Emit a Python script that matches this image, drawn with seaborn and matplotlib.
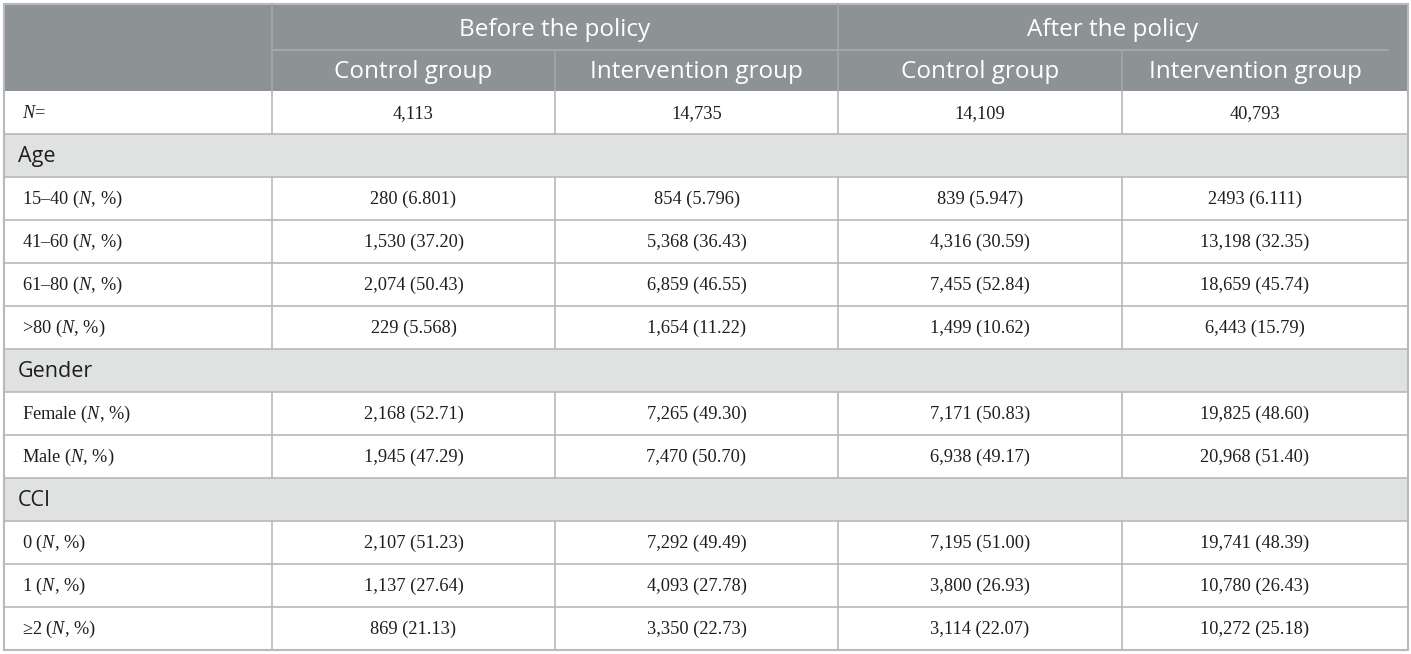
import matplotlib
matplotlib.use("Agg")
import matplotlib.pyplot as plt
import seaborn as sns
from matplotlib.patches import Rectangle

sns.set_theme(style="white")
plt.rcParams['mathtext.fontset'] = 'custom'
plt.rcParams['mathtext.it'] = 'Liberation Serif:italic'
plt.rcParams['mathtext.rm'] = 'Liberation Serif'

# table content
periods = ["Before the policy", "After the policy"]
groups = ["Control group", "Intervention group"]
row_labels = ["$N$=", "Age", "15–40 ($N$, %)", "41–60 ($N$, %)", "61–80 ($N$, %)",
              ">80 ($N$, %)", "Gender", "Female ($N$, %)", "Male ($N$, %)", "CCI",
              "0 ($N$, %)", "1 ($N$, %)", "≥2 ($N$, %)"]
before_control = ["4,113", None, "280 (6.801)", "1,530 (37.20)", "2,074 (50.43)", "229 (5.568)",
                  None, "2,168 (52.71)", "1,945 (47.29)", None,
                  "2,107 (51.23)", "1,137 (27.64)", "869 (21.13)"]
before_intervention = ["14,735", None, "854 (5.796)", "5,368 (36.43)", "6,859 (46.55)", "1,654 (11.22)",
                       None, "7,265 (49.30)", "7,470 (50.70)", None,
                       "7,292 (49.49)", "4,093 (27.78)", "3,350 (22.73)"]
after_control = ["14,109", None, "839 (5.947)", "4,316 (30.59)", "7,455 (52.84)", "1,499 (10.62)",
                 None, "7,171 (50.83)", "6,938 (49.17)", None,
                 "7,195 (51.00)", "3,800 (26.93)", "3,114 (22.07)"]
after_intervention = ["40,793", None, "2493 (6.111)", "13,198 (32.35)", "18,659 (45.74)", "6,443 (15.79)",
                      None, "19,825 (48.60)", "20,968 (51.40)", None,
                      "19,741 (48.39)", "10,780 (26.43)", "10,272 (25.18)"]

columns = [before_control, before_intervention, after_control, after_intervention]

# layout (pixels)
W, H = 1411, 654
col_x = [4, 272, 555, 838, 1122, 1408]
text_right = 1388   # last column content sits inside a right padding
top, mid, head_bot, bottom = 4, 50, 91, 650
row_h = (bottom - head_bot) / len(row_labels)

def col_center(j):
    right = col_x[j + 2] if j < 3 else text_right
    return (col_x[j + 1] + right) / 2

header_col = "#8d9295"
section_col = "#e0e2e1"
line_col = "#b7b9ba"
sans = ["Open Sans", "DejaVu Sans"]
serif = ["Liberation Serif", "DejaVu Serif"]

fig = plt.figure(figsize=(W / 100, H / 100), dpi=100)
ax = fig.add_axes([0, 0, 1, 1])
ax.set_xlim(0, W)
ax.set_ylim(H, 0)
ax.axis("off")

# header block
ax.add_patch(Rectangle((col_x[0], top), col_x[-1] - col_x[0], head_bot - top,
                       facecolor=header_col, edgecolor="none"))
ax.plot([col_x[1], text_right], [mid, mid], color="#a9adaf", lw=1.2)
for x in (col_x[1], col_x[3]):
    ax.plot([x, x], [top, head_bot], color="#a3a7a9", lw=1.2)
for x in (col_x[2], col_x[4]):
    ax.plot([x, x], [mid, head_bot], color="#a3a7a9", lw=1.2)

period_span = [(col_x[1], col_x[3]), (col_x[3], text_right)]
for i, p in enumerate(periods):
    cx = sum(period_span[i]) / 2
    ax.text(cx, (top + mid) / 2 + 3, p, ha="center", va="center", color="white",
            fontsize=17.5, family=sans)
for j in range(4):
    ax.text(col_center(j), (mid + head_bot) / 2 + 2, groups[j % 2], ha="center",
            va="center", color="white", fontsize=17.5, family=sans)

# body rows
for r, lab in enumerate(row_labels):
    y0 = head_bot + r * row_h
    yc = y0 + row_h / 2
    is_section = before_control[r] is None
    if is_section:
        ax.add_patch(Rectangle((col_x[0], y0), col_x[-1] - col_x[0], row_h,
                               facecolor=section_col, edgecolor="none"))
        ax.text(18, yc + 1, lab, ha="left", va="center", color="#1e1e1e",
                fontsize=15.5, family=sans)
    else:
        for x in col_x[1:-1]:
            ax.plot([x, x], [y0, y0 + row_h], color=line_col, lw=1.2)
        ax.text(22, yc + 1, lab, ha="left", va="center", color="#1e1e1e",
                fontsize=13.2, family=serif)
        for j, col in enumerate(columns):
            ax.text(col_center(j), yc + 1, col[r], ha="center", va="center",
                    color="#1e1e1e", fontsize=13.2, family=serif)
    ax.plot([col_x[0], col_x[-1]], [y0 + row_h, y0 + row_h], color=line_col, lw=1.2)

# outer border
ax.add_patch(Rectangle((col_x[0], top), col_x[-1] - col_x[0], bottom - top,
                       facecolor="none", edgecolor=line_col, lw=1.5))

fig.savefig("out.png", dpi=100)
